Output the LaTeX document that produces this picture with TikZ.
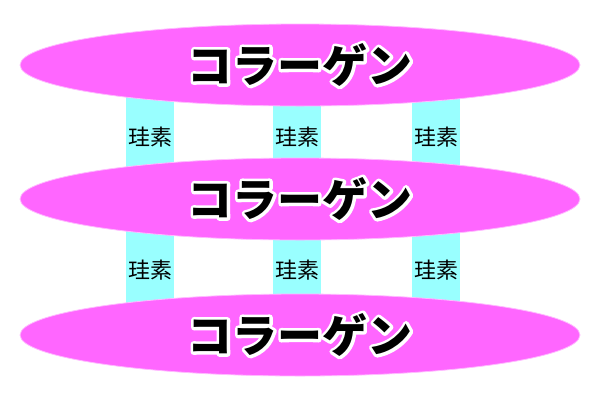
\documentclass[tikz,border=0pt]{standalone}
\usepackage{fontspec}
\newfontfamily\jpfont{Noto Sans CJK JP}
\usepackage{tikz}
\usetikzlibrary{shapes.geometric,   % ellipses
           positioning}
\definecolor{rose}{RGB}{255,102,255}
\definecolor{turquoise}{RGB}{153,255,255}

% trace le contour des lettres (mode de rendu 2 : remplissage + trait)
\newcommand\entoure[1]{\special{pdf:literal direct 2 Tr 6 w 1 J 1 j 1 1 1 RG}#1\special{pdf:literal direct 0 Tr}}

\tikzset{
  couche/.style={ellipse,fill=rose,draw=rose!45,line width=0.8pt,
                 minimum width=560,minimum height=82,inner sep=0},
  pilier/.style={fill=turquoise,minimum width=48,minimum height=110,
                 inner sep=0,font=\jpfont\fontsize{22}{22}\selectfont},
  titre/.style={inner sep=0,font=\jpfont\bfseries\fontsize{45}{45}\selectfont},
  contour/.style={titre,text=white}
}

\begin{document}
\begin{tikzpicture}[x=1pt,y=-1pt]
\useasboundingbox (0,0) rectangle (600,400);
\foreach \x [count=\i] in {150,297,436}{
  \node[pilier] (h\i) at (\x,137) {珪素};
  \node[pilier] (b\i) at (\x,270) {珪素};
}
\foreach \c/\y in {c1/65,c2/199,c3/335}{
  \node[couche] (\c) at (300,\y) {};
  \node[contour] (\c-o) at (\c) {\entoure{コラーゲン}};
  \node[titre] (\c-t) at (\c) {コラーゲン};
}
\end{tikzpicture}
\end{document}
